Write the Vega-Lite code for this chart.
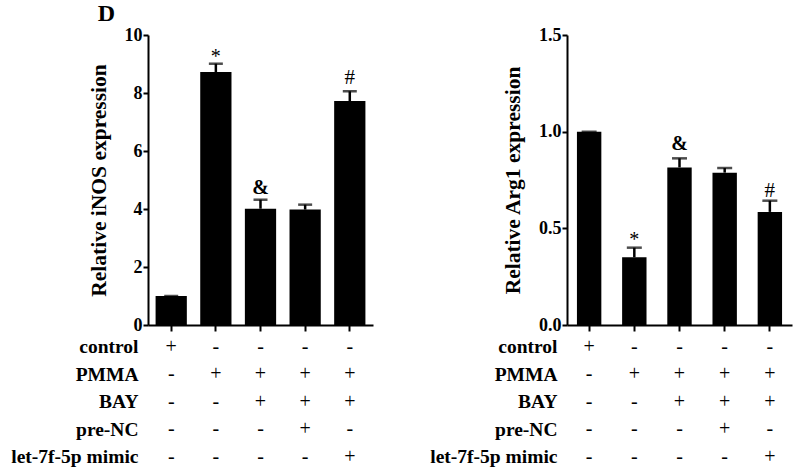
{
  "$schema": "https://vega.github.io/schema/vega-lite/v6.json",
  "padding": {"left": 10, "top": 2, "right": 5, "bottom": 0},
  "background": "white",
  "title": {"text": "D", "anchor": "start", "frame": "bounds", "fontSize": 24, "font": "Liberation Serif", "fontWeight": "bold", "color": "#000", "dx": 87, "offset": 0},
  "config": {"view": {"stroke": null}, "font": "Liberation Serif"},
  "datasets": {
    "inos": [
      {"group": "control", "value": 1.0, "upper": 1.0, "sig": ""},
      {"group": "PMMA", "value": 8.72, "upper": 9.01, "sig": "*"},
      {"group": "PMMA+BAY", "value": 4.01, "upper": 4.32, "sig": "&"},
      {"group": "PMMA+BAY+pre-NC", "value": 3.98, "upper": 4.15, "sig": ""},
      {"group": "PMMA+BAY+let-7f-5p mimic", "value": 7.72, "upper": 8.06, "sig": "#"}
    ],
    "arg1": [
      {"group": "control", "value": 1.0, "upper": 1.0, "sig": ""},
      {"group": "PMMA", "value": 0.35, "upper": 0.40, "sig": "*"},
      {"group": "PMMA+BAY", "value": 0.815, "upper": 0.862, "sig": "&"},
      {"group": "PMMA+BAY+pre-NC", "value": 0.788, "upper": 0.812, "sig": ""},
      {"group": "PMMA+BAY+let-7f-5p mimic", "value": 0.585, "upper": 0.643, "sig": "#"}
    ],
    "design": [
      {"group": "control", "factor": "control", "sign": "+"},
      {"group": "control", "factor": "PMMA", "sign": "-"},
      {"group": "control", "factor": "BAY", "sign": "-"},
      {"group": "control", "factor": "pre-NC", "sign": "-"},
      {"group": "control", "factor": "let-7f-5p mimic", "sign": "-"},
      {"group": "PMMA", "factor": "control", "sign": "-"},
      {"group": "PMMA", "factor": "PMMA", "sign": "+"},
      {"group": "PMMA", "factor": "BAY", "sign": "-"},
      {"group": "PMMA", "factor": "pre-NC", "sign": "-"},
      {"group": "PMMA", "factor": "let-7f-5p mimic", "sign": "-"},
      {"group": "PMMA+BAY", "factor": "control", "sign": "-"},
      {"group": "PMMA+BAY", "factor": "PMMA", "sign": "+"},
      {"group": "PMMA+BAY", "factor": "BAY", "sign": "+"},
      {"group": "PMMA+BAY", "factor": "pre-NC", "sign": "-"},
      {"group": "PMMA+BAY", "factor": "let-7f-5p mimic", "sign": "-"},
      {"group": "PMMA+BAY+pre-NC", "factor": "control", "sign": "-"},
      {"group": "PMMA+BAY+pre-NC", "factor": "PMMA", "sign": "+"},
      {"group": "PMMA+BAY+pre-NC", "factor": "BAY", "sign": "+"},
      {"group": "PMMA+BAY+pre-NC", "factor": "pre-NC", "sign": "+"},
      {"group": "PMMA+BAY+pre-NC", "factor": "let-7f-5p mimic", "sign": "-"},
      {"group": "PMMA+BAY+let-7f-5p mimic", "factor": "control", "sign": "-"},
      {"group": "PMMA+BAY+let-7f-5p mimic", "factor": "PMMA", "sign": "+"},
      {"group": "PMMA+BAY+let-7f-5p mimic", "factor": "BAY", "sign": "+"},
      {"group": "PMMA+BAY+let-7f-5p mimic", "factor": "pre-NC", "sign": "-"},
      {"group": "PMMA+BAY+let-7f-5p mimic", "factor": "let-7f-5p mimic", "sign": "+"}
    ]
  },
  "spacing": 56,
  "hconcat": [
    {
      "bounds": "flush",
      "spacing": 8,
      "vconcat": [
        {
          "width": 225,
          "height": 290,
          "data": {"name": "inos"},
          "encoding": {
            "x": {"field": "group", "type": "nominal", "sort": ["control", "PMMA", "PMMA+BAY", "PMMA+BAY+pre-NC", "PMMA+BAY+let-7f-5p mimic"], "scale": {"paddingInner": 0.3, "paddingOuter": 0.17},
              "axis": {"labels": false, "title": null, "domainWidth": 2, "domainColor": "#000", "tickColor": "#000", "tickWidth": 2, "tickSize": 6}}
          },
          "layer": [
            {"mark": {"type": "bar", "color": "#000"},
             "encoding": {"y": {"field": "value", "type": "quantitative", "scale": {"domain": [0, 10], "nice": false},
               "axis": {"title": "Relative iNOS expression", "titleFontSize": 21.5, "titleFontWeight": "bold", "titleColor": "#000", "titlePadding": 14, "values": [0, 2, 4, 6, 8, 10], "labelFontSize": 18, "labelFontWeight": "bold", "labelColor": "#000", "labelPadding": 1, "tickSize": 5, "tickWidth": 2, "tickColor": "#000", "domainWidth": 2, "domainColor": "#000", "grid": false}}}},
            {"mark": {"type": "rule", "strokeWidth": 2.5, "color": "#000"},
             "encoding": {"y": {"field": "value", "type": "quantitative"}, "y2": {"field": "upper"}}},
            {"mark": {"type": "tick", "thickness": 2.5, "size": 14, "color": "#000"},
             "encoding": {"y": {"field": "upper", "type": "quantitative"}}},
            {"transform": [{"filter": "datum.sig == '*'"}],
             "mark": {"type": "text", "fontSize": 20, "color": "#000", "baseline": "alphabetic", "dy": -1},
             "encoding": {"y": {"field": "upper", "type": "quantitative"}, "text": {"field": "sig"}}},
            {"transform": [{"filter": "datum.sig == '&'"}],
             "mark": {"type": "text", "fontSize": 20, "fontWeight": "bold", "color": "#000", "baseline": "alphabetic", "dy": -6},
             "encoding": {"y": {"field": "upper", "type": "quantitative"}, "text": {"field": "sig"}}},
            {"transform": [{"filter": "datum.sig == '#'"}],
             "mark": {"type": "text", "fontSize": 21, "color": "#000", "baseline": "alphabetic", "dy": -7},
             "encoding": {"y": {"field": "upper", "type": "quantitative"}, "text": {"field": "sig"}}}
          ]
        },
        {
          "width": 225,
          "height": 137.5,
          "data": {"name": "design"},
          "mark": {"type": "text", "fontSize": 20, "color": "#000", "baseline": "middle"},
          "encoding": {
            "x": {"field": "group", "type": "nominal", "sort": ["control", "PMMA", "PMMA+BAY", "PMMA+BAY+pre-NC", "PMMA+BAY+let-7f-5p mimic"], "scale": {"type": "band", "paddingInner": 0.3, "paddingOuter": 0.17}, "axis": null},
            "y": {"field": "factor", "type": "nominal", "sort": ["control", "PMMA", "BAY", "pre-NC", "let-7f-5p mimic"], "scale": {"type": "point", "padding": 0.5},
              "axis": {"title": null, "domain": false, "ticks": false, "labelFontSize": 19.5, "labelFontWeight": "bold", "labelColor": "#000", "labelPadding": 10}},
            "text": {"field": "sign"}
          }
        }
      ]
    },
    {
      "bounds": "flush",
      "spacing": 8,
      "vconcat": [
        {
          "width": 225,
          "height": 290,
          "data": {"name": "arg1"},
          "encoding": {
            "x": {"field": "group", "type": "nominal", "sort": ["control", "PMMA", "PMMA+BAY", "PMMA+BAY+pre-NC", "PMMA+BAY+let-7f-5p mimic"], "scale": {"paddingInner": 0.46, "paddingOuter": 0.22},
              "axis": {"labels": false, "title": null, "domainWidth": 2, "domainColor": "#000", "tickColor": "#000", "tickWidth": 2, "tickSize": 6}}
          },
          "layer": [
            {"mark": {"type": "bar", "color": "#000"},
             "encoding": {"y": {"field": "value", "type": "quantitative", "scale": {"domain": [0, 1.5], "nice": false},
               "axis": {"title": "Relative Arg1 expression", "titleFontSize": 21.5, "titleFontWeight": "bold", "titleColor": "#000", "titlePadding": 14, "values": [0, 0.5, 1, 1.5], "format": ".1f", "labelFontSize": 18, "labelFontWeight": "bold", "labelColor": "#000", "labelPadding": 1, "tickSize": 5, "tickWidth": 2, "tickColor": "#000", "domainWidth": 2, "domainColor": "#000", "grid": false}}}},
            {"mark": {"type": "rule", "strokeWidth": 2.5, "color": "#000"},
             "encoding": {"y": {"field": "value", "type": "quantitative"}, "y2": {"field": "upper"}}},
            {"mark": {"type": "tick", "thickness": 2.5, "size": 15, "color": "#000"},
             "encoding": {"y": {"field": "upper", "type": "quantitative"}}},
            {"transform": [{"filter": "datum.sig == '*'"}],
             "mark": {"type": "text", "fontSize": 20, "color": "#000", "baseline": "alphabetic", "dy": -2},
             "encoding": {"y": {"field": "upper", "type": "quantitative"}, "text": {"field": "sig"}}},
            {"transform": [{"filter": "datum.sig == '&'"}],
             "mark": {"type": "text", "fontSize": 20, "fontWeight": "bold", "color": "#000", "baseline": "alphabetic", "dy": -8},
             "encoding": {"y": {"field": "upper", "type": "quantitative"}, "text": {"field": "sig"}}},
            {"transform": [{"filter": "datum.sig == '#'"}],
             "mark": {"type": "text", "fontSize": 21, "color": "#000", "baseline": "alphabetic", "dy": -4},
             "encoding": {"y": {"field": "upper", "type": "quantitative"}, "text": {"field": "sig"}}}
          ]
        },
        {
          "width": 225,
          "height": 137.5,
          "data": {"name": "design"},
          "mark": {"type": "text", "fontSize": 20, "color": "#000", "baseline": "middle"},
          "encoding": {
            "x": {"field": "group", "type": "nominal", "sort": ["control", "PMMA", "PMMA+BAY", "PMMA+BAY+pre-NC", "PMMA+BAY+let-7f-5p mimic"], "scale": {"type": "band", "paddingInner": 0.46, "paddingOuter": 0.22}, "axis": null},
            "y": {"field": "factor", "type": "nominal", "sort": ["control", "PMMA", "BAY", "pre-NC", "let-7f-5p mimic"], "scale": {"type": "point", "padding": 0.5},
              "axis": {"title": null, "domain": false, "ticks": false, "labelFontSize": 19.5, "labelFontWeight": "bold", "labelColor": "#000", "labelPadding": 10}},
            "text": {"field": "sign"}
          }
        }
      ]
    }
  ]
}
